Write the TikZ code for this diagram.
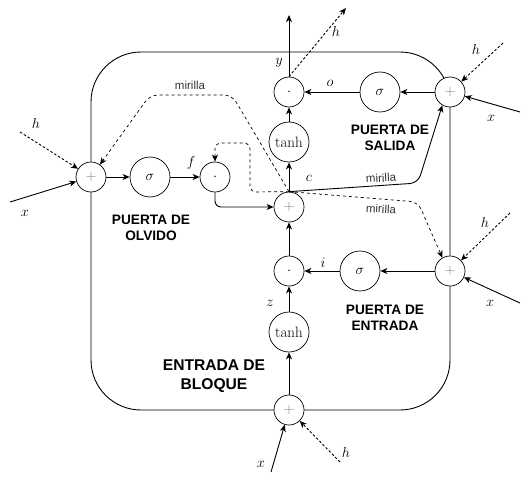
\documentclass[tikz,border=0pt]{standalone}
\usepackage{fontspec}
\setsansfont{Liberation Sans}
\usetikzlibrary{arrows.meta}

\begin{document}
\begin{tikzpicture}[x=1pt, y=-1pt,
						>={Stealth[length=7pt, width=6pt, inset=2pt]},
						every path/.style={line width=0.9pt},
						op/.style={circle, draw, fill=white, minimum size=30pt, inner sep=0pt, line width=0.7pt, font=\fontsize{15}{15}\selectfont},
						act/.style={op, minimum size=40pt, font=\fontsize{15}{15}\selectfont},
						lbl/.style={font=\fontsize{15}{18}\selectfont},
						gate/.style={font=\sffamily\bfseries\fontsize{13.7}{16}\selectfont, align=center},
						peep/.style={font=\sffamily\fontsize{11.5}{13}\selectfont, text=black!80},
						feed/.style={dashed, line width=0.6pt, dash pattern=on 2.5pt off 2pt}]
					\useasboundingbox (0,0) rectangle (529,484);
					\draw [rounded corners=50pt] (91,52) rectangle (450,410);

					\node [op] (A1) at (91,177) {\textcolor{gray}{$+$}};
					\node [act] (G1) at (150,177) {$\sigma$};
					\node [op] (P1) at (215,177) {$\cdot$};
					\node [op] (C) at (289,207) {\textcolor{gray}{$+$}};
					\node [act] (H1) at (289,142) {$\tanh$};
					\node [op] (P2) at (289,92) {$\cdot$};
					\node [act] (G2) at (380,92) {$\sigma$};
					\node [op] (A2) at (450,92) {\textcolor{gray}{$+$}};
					\node [op] (P3) at (289,271) {$\cdot$};
					\node [act] (G3) at (360,271) {$\sigma$};
					\node [op] (A3) at (450,271) {\textcolor{gray}{$+$}};
					\node [act] (H2) at (289,332) {$\tanh$};
					\node [op] (A4) at (289,410) {\textcolor{gray}{$+$}};

					\coordinate (yout) at (289,15);
					\coordinate (hout) at (346,8);
					\coordinate (hA1) at (20,132);
					\coordinate (xA1) at (10,202);
					\coordinate (hA2) at (503,43);
					\coordinate (xA2) at (520,112);
					\coordinate (hA3) at (510,213);
					\coordinate (xA3) at (520,303);
					\coordinate (xA4) at (271,472);
					\coordinate (hA4) at (340,462);

					\path [->] (A1) edge (G1);
					\path [->] (G1) edge (P1);
					\path [->] (A2) edge (G2);
					\path [->] (G2) edge (P2);
					\path [->] (H1) edge (P2);
					\path [->] (C) edge (H1);
					\path [->] (P2) edge (yout);
					\path [->, feed] (P2.north) edge (hout);
					\path [->] (A3) edge (G3);
					\path [->] (G3) edge (P3);
					\path [->] (P3) edge (C);
					\path [->] (H2) edge (P3);
					\path [->] (A4) edge (H2);
					\draw [->, rounded corners=6pt] (P1) |- (C);

					\path [->, feed] (hA1) edge (A1);
					\path [->] (xA1) edge (A1);
					\path [->, feed] (hA2) edge (A2);
					\path [->] (xA2) edge (A2);
					\path [->, feed] (hA3) edge (A3);
					\path [->] (xA3) edge (A3);
					\path [->] (xA4) edge (A4);
					\path [->, feed] (hA4) edge (A4);

					% mirillas
					\draw [->, rounded corners=8pt] (C.north) -- (418,183) -- (A2.240);
					\draw [->, dashed, line width=0.7pt, rounded corners=8pt] (C.north) -- (418,202) -- (A3.120);
					\draw [->, dashed, line width=0.7pt, rounded corners=8pt] (C.north) -- (232,95) -- (150,95) -- (A1);
					\draw [->, dashed, line width=0.7pt, rounded corners=6pt] (C.north) -- (250,192) -- (250,143) -- (215,143) -- (P1);

					\node [peep] (m1) at (190,85) {mirilla};
					\node [peep, rotate=3] (m2) at (381,178) {mirilla};
					\node [peep, rotate=-3] (m3) at (381,209) {mirilla};

					\node [lbl] (ly) at (279,63) {$y$};
					\node [lbl] (lh1) at (336,32) {$h$};
					\node [lbl] (lo) at (330,83) {$o$};
					\node [lbl] (lc) at (309,178) {$c$};
					\node [lbl] (lf) at (191,163) {$f$};
					\node [lbl] (lh2) at (36,123) {$h$};
					\node [lbl] (lx2) at (25,213) {$x$};
					\node [lbl] (lh3) at (476,50) {$h$};
					\node [lbl] (lx3) at (491,118) {$x$};
					\node [lbl] (li) at (323,263) {$i$};
					\node [lbl] (lz) at (270,303) {$z$};
					\node [lbl] (lh4) at (485,222) {$h$};
					\node [lbl] (lx4) at (490,303) {$x$};
					\node [lbl] (lx5) at (261,464) {$x$};
					\node [lbl] (lh5) at (346,452) {$h$};

					\node [gate] (g1) at (151,228) {PUERTA DE\\OLVIDO};
					\node [gate] (g2) at (390,138) {PUERTA DE\\SALIDA};
					\node [gate] (g3) at (385,318) {PUERTA DE\\ENTRADA};
					\node [gate, font=\sffamily\bfseries\fontsize{15.6}{19}\selectfont] (g4) at (214,376) {ENTRADA DE\\BLOQUE};
				\end{tikzpicture}
\end{document}
